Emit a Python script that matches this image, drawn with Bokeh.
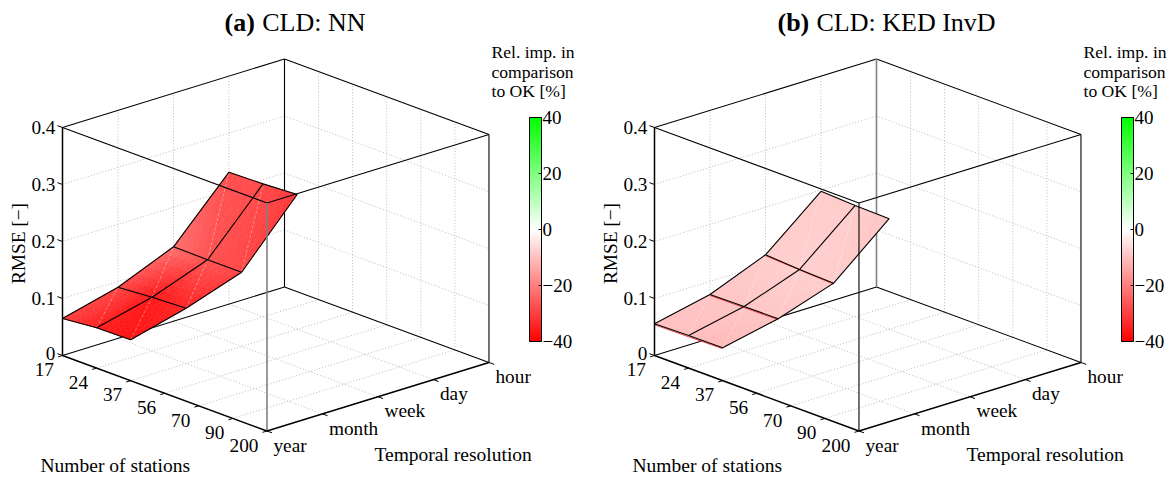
from bokeh.plotting import figure
from bokeh.layouts import row
from bokeh.models import Range1d, ColorBar, LinearColorMapper, FixedTicker
from bokeh.core.properties import value
from bokeh.embed import file_html
from bokeh.resources import INLINE

# ---- chart data -------------------------------------------------------
stations = ["17", "24", "37", "56", "70", "90", "200"]
resolutions = ["year", "month", "week", "day", "hour"]
rmse_ticks = [0, 0.1, 0.2, 0.3, 0.4]
rmse_tick_labels = ["0", "0.1", "0.2", "0.3", "0.4"]
imp_ticks = [-40, -20, 0, 20, 40]
imp_tick_labels = {-40: "\u221240", -20: "\u221220", 0: "0", 20: "20", 40: "40"}

# rows: year, month, week, day; columns: 17, 24, 37 stations
rmse_nn_year = [0.065, 0.0707, 0.0717]
rmse_nn_month = [0.0898, 0.0943, 0.097]
rmse_nn_week = [0.1306, 0.130, 0.1302]
rmse_nn_day = [0.2315, 0.233, 0.2365]
imp_nn_year = [-30, -35, -37]
imp_nn_month = [-29, -36, -34]
imp_nn_week = [-22.5, -27, -29]
imp_nn_day = [-27.5, -28.5, -31]

rmse_ked_year = [0.0556, 0.0572, 0.0577]
rmse_ked_month = [0.077, 0.078, 0.0785]
rmse_ked_week = [0.1166, 0.1129, 0.111]
rmse_ked_day = [0.198, 0.195, 0.194]
imp_ked_year = [-10, -10, -11]
imp_ked_month = [-9, -9, -9]
imp_ked_week = [-8, -7.5, -8]
imp_ked_day = [-8, -8, -9]

# ---- view of the 3-D box (oblique projection, page pixels) ------------
ORIGIN = (62.0, 355.0)
ST_VEC = (34.08, 12.58)      # one station step
RES_VEC = (55.5, -17.125)    # one resolution step
Z_SCALE = 570.0              # pixels per RMSE unit
NS, NR = len(stations) - 1, len(resolutions) - 1
ZMAX = rmse_ticks[-1]
FONT = value("Liberation Serif")


def proj(i, j, z=0.0):
    return (ORIGIN[0] + i * ST_VEC[0] + j * RES_VEC[0],
            ORIGIN[1] + i * ST_VEC[1] + j * RES_VEC[1] - z * Z_SCALE)


def imp_rgb(v):
    t = min(abs(v) / 40.0, 1.0)
    c = round(255 * (1 - t))
    return f"#ff{c:02x}{c:02x}" if v < 0 else f"#{c:02x}ff{c:02x}"


palette = [imp_rgb(-40 + 80 * k / 255) for k in range(256)]


def seg(p, a, b, color="black", width=1.0, dash="solid", alpha=1.0):
    if not a:
        return
    p.segment([q[0] for q in a], [q[1] for q in a], [q[0] for q in b], [q[1] for q in b],
              line_color=color, line_width=width, line_dash=dash, line_alpha=alpha)


def text(p, x, y, s, size, align="left", style="normal", angle=0.0):
    p.text(x=x, y=y, text=s, text_font=FONT, text_font_size=value(size), text_color="black",
           text_align=align, text_baseline="middle", text_font_style=style, angle=angle)


def panel(width, tag, tag_x, name, name_x, rmse, imp, front_style, back_style, red_edge):
    p = figure(width=width, height=479, x_range=Range1d(0, width), y_range=Range1d(479, 0),
               toolbar_location=None, output_backend="svg", min_border=0, outline_line_color=None)
    p.axis.visible = False
    p.grid.visible = False
    p.background_fill_color = "white"
    p.border_fill_color = "white"

    # dotted grids: floor and the two back walls
    g = dict(color="#bcbcbc", width=1.0, dash="1 2")
    seg(p, [proj(i, 0) for i in range(1, NS)], [proj(i, NR) for i in range(1, NS)], **g)
    seg(p, [proj(0, j) for j in range(1, NR)], [proj(NS, j) for j in range(1, NR)], **g)
    seg(p, [proj(0, j) for j in range(1, NR)], [proj(0, j, ZMAX) for j in range(1, NR)], **g)
    seg(p, [proj(i, NR) for i in range(1, NS)], [proj(i, NR, ZMAX) for i in range(1, NS)], **g)
    zmid = rmse_ticks[1:-1]
    seg(p, [proj(0, 0, z) for z in zmid], [proj(0, NR, z) for z in zmid], **g)
    seg(p, [proj(0, NR, z) for z in zmid], [proj(NS, NR, z) for z in zmid], **g)

    # box lines behind the surface
    seg(p, [proj(0, 0), proj(0, NR)], [proj(0, NR), proj(NS, NR)], width=1.1)
    seg(p, [proj(0, 0, ZMAX), proj(0, NR, ZMAX)], [proj(0, NR, ZMAX), proj(NS, NR, ZMAX)], width=1.1)
    seg(p, [proj(NS, NR)], [proj(NS, NR, ZMAX)], width=1.1)
    seg(p, [proj(0, NR)], [proj(0, NR, ZMAX)], **back_style)

    # surface, shaded triangle by triangle
    xs, ys, cols = [], [], []
    n = 6

    def fill_tri(a, b, c):
        def pt(k2, l2):
            u, w = k2 / n, l2 / n
            s = 1 - u - w
            return [s * a[q] + u * b[q] + w * c[q] for q in range(4)]
        for k in range(n):
            for l in range(n - k):
                tris = [[pt(k, l), pt(k + 1, l), pt(k, l + 1)]]
                if k + l < n - 1:
                    tris.append([pt(k + 1, l), pt(k + 1, l + 1), pt(k, l + 1)])
                for t in tris:
                    pp = [proj(q[0], q[1], q[2]) for q in t]
                    xs.append([q[0] for q in pp])
                    ys.append([q[1] for q in pp])
                    cols.append(imp_rgb(sum(q[3] for q in t) / 3))

    nj, ni = len(rmse), len(rmse[0])
    V = lambda i, j: (i, j, rmse[j][i], imp[j][i])
    for j in range(nj - 1):
        for i in range(ni - 1):
            fill_tri(V(i, j), V(i + 1, j), V(i, j + 1))
            fill_tri(V(i + 1, j), V(i + 1, j + 1), V(i, j + 1))
    p.patches(xs, ys, fill_color=cols, line_color=cols, line_width=0.6)

    # faint mesh diagonals
    a, b = [], []
    for j in range(nj - 1):
        for i in range(ni - 1):
            a.append(proj(i + 1, j, rmse[j][i + 1]))
            b.append(proj(i, j + 1, rmse[j + 1][i]))
    seg(p, a, b, color="white", width=0.8, dash="3 2", alpha=0.45)

    # red fringe just under the cross lines of the pale surface
    if red_edge:
        rj = range(nj - 1)
        a = [proj(0, j, rmse[j][0] - 0.0017) for j in rj]
        b = [proj(ni - 1, j, rmse[j][ni - 1] - 0.0017) for j in rj]
        seg(p, a, b, color="#f03030", width=0.9)

    # surface outline and mesh
    a = [proj(i, j, rmse[j][i]) for j in range(nj) for i in range(ni - 1)]
    b = [proj(i + 1, j, rmse[j][i + 1]) for j in range(nj) for i in range(ni - 1)]
    a += [proj(i, j, rmse[j][i]) for i in range(ni) for j in range(nj - 1)]
    b += [proj(i, j + 1, rmse[j + 1][i]) for i in range(ni) for j in range(nj - 1)]
    seg(p, a, b, width=1.1)

    # box lines in front of the surface
    seg(p, [proj(0, 0, ZMAX), proj(NS, 0, ZMAX)], [proj(NS, 0, ZMAX), proj(NS, NR, ZMAX)], width=1.1)
    seg(p, [proj(NS, 0)], [proj(NS, 0, ZMAX)], **front_style)
    seg(p, [proj(0, 0)], [proj(0, 0, ZMAX)], width=1.5)
    seg(p, [proj(0, 0), proj(NS, 0)], [proj(NS, 0), proj(NS, NR)], width=1.5)

    # ticks
    t = 0.08
    seg(p, [proj(i, 0) for i in range(NS + 1)], [proj(i, -t) for i in range(NS + 1)])
    seg(p, [proj(NS, j) for j in range(NR + 1)], [proj(NS + 0.15, j) for j in range(NR + 1)])
    seg(p, [proj(0, 0, z) for z in rmse_ticks], [proj(-0.15, 0, z) for z in rmse_ticks])

    # tick labels
    for z, s in zip(rmse_ticks, rmse_tick_labels):
        x, y = proj(0, 0, z)
        text(p, [x - 7], [y - (2 if z == 0 else 0)], [s], "19.3px", "right")
    for i, s in enumerate(stations):
        x, y = proj(i, 0)
        text(p, [x - 8.5], [y + 14.3], [s], "19.3px", "right")
    for j, s in enumerate(resolutions):
        x, y = proj(NS, j)
        text(p, [x + 6.5], [y + 14.2], [s], "19.3px", "left")

    # axis titles and panel title
    text(p, [40], [465.2], ["Number of stations"], "19.5px")
    text(p, [374], [453.8], ["Temporal resolution"], "19.5px")
    text(p, [18], [243], ["RMSE [\u2212]"], "19.3px", "center", angle=1.5708)
    text(p, [tag_x], [21.7], [tag], "26px", style="bold")
    text(p, [name_x], [21.7], [name], "26px")

    # colour bar
    for k, s in enumerate(["Rel. imp. in", "comparison", "to OK [%]"]):
        text(p, [491], [51.3 + 19.8 * k], [s], "17.6px")
    mapper = LinearColorMapper(palette=palette, low=imp_ticks[0], high=imp_ticks[-1])
    cb = ColorBar(color_mapper=mapper, ticker=FixedTicker(ticks=imp_ticks),
                  major_label_overrides=imp_tick_labels, width=12, height=224,
                  location=(529, 479 - 341), padding=0, margin=0, label_standoff=1,
                  major_label_text_font="Liberation Serif", major_label_text_font_size="19px",
                  major_label_text_color="black", bar_line_color="black", bar_line_width=1,
                  major_tick_line_color="black", major_tick_in=3, major_tick_out=0,
                  minor_tick_line_color=None, background_fill_color=None, border_line_color=None)
    p.add_layout(cb, "center")
    cy = [341 - (v + 40) / 80 * 224 for v in imp_ticks]
    p.segment([529] * 5, cy, [532] * 5, cy, line_color="black", line_width=1)
    return p


a = panel(592, "(a)", 224, "CLD: NN", 261.7,
          [rmse_nn_year, rmse_nn_month, rmse_nn_week, rmse_nn_day],
          [imp_nn_year, imp_nn_month, imp_nn_week, imp_nn_day],
          dict(color="#808080", width=1.6), dict(color="black", width=1.1), False)
b = panel(584, "(b)", 185, "CLD: KED InvD", 224,
          [rmse_ked_year, rmse_ked_month, rmse_ked_week, rmse_ked_day],
          [imp_ked_year, imp_ked_month, imp_ked_week, imp_ked_day],
          dict(color="black", width=1.1), dict(color="#808080", width=1.6), True)

page = row(a, b, spacing=0)
open("out.html", "w").write(file_html(page, INLINE))
